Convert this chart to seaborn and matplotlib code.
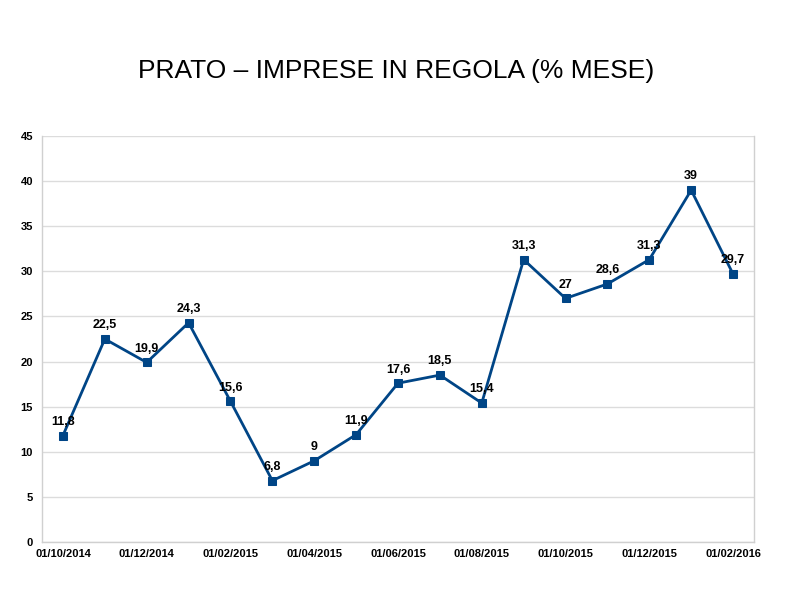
import matplotlib
matplotlib.use("Agg")
import matplotlib.pyplot as plt
import seaborn as sns
import pandas as pd

months = ["10/2014", "11/2014", "12/2014", "01/2015", "02/2015", "03/2015", "04/2015",
          "05/2015", "06/2015", "07/2015", "08/2015", "09/2015", "10/2015", "11/2015",
          "12/2015", "01/2016", "02/2016"]
values = [11.8, 22.5, 19.9, 24.3, 15.6, 6.8, 9, 11.9, 17.6, 18.5, 15.4, 31.3, 27, 28.6, 31.3, 39, 29.7]
value_labels = ["11,8", "22,5", "19,9", "24,3", "15,6", "6,8", "9", "11,9", "17,6", "18,5",
                "15,4", "31,3", "27", "28,6", "31,3", "39", "29,7"]
tick_labels = ["01/10/2014", "01/12/2014", "01/02/2015", "01/04/2015", "01/06/2015",
               "01/08/2015", "01/10/2015", "01/12/2015", "01/02/2016"]
y_ticks = [0, 5, 10, 15, 20, 25, 30, 35, 40, 45]

sns.set_theme(style="white")
plt.rcParams['font.family'] = ['Liberation Sans', 'DejaVu Sans']

df = pd.DataFrame({"pos": [i + 0.5 for i in range(len(months))], "value": values})

fig = plt.figure(figsize=(7.94, 5.95), dpi=100)
ax = fig.add_axes([42 / 794, 1 - 542 / 595, (754 - 42) / 794, (542 - 136) / 595])

color = "#004586"
sns.lineplot(data=df, x="pos", y="value", ax=ax, color=color, linewidth=2,
             marker="s", markersize=6, markeredgecolor=color, markerfacecolor=color)

for x, y, lab in zip(df["pos"], df["value"], value_labels):
    ax.annotate(lab, (x, y), xytext=(0, 5.5), textcoords="offset points", ha="center",
                va="bottom", fontsize=9, fontweight="bold", color="black")

ax.set_xlim(0, len(months))
ax.set_ylim(0, 45)
ax.set_yticks(y_ticks)
ax.set_yticklabels([str(v) for v in y_ticks])
# major ticks at month boundaries (no labels), labels centred on the months
ax.set_xticks(list(range(0, len(months), 2)))
ax.set_xticklabels([""] * len(tick_labels))
ax.set_xticks([i + 0.5 for i in range(0, len(months), 2)], minor=True)
ax.set_xticklabels(tick_labels, minor=True)
ax.tick_params(axis="both", which="major", labelsize=8, labelcolor="black", length=3,
               width=0.8, direction="out", color="#c8c8c8")
ax.tick_params(axis="x", which="minor", labelsize=8, labelcolor="black", length=0, pad=5)
for lbl in ax.get_xticklabels(minor=True) + ax.get_yticklabels():
    lbl.set_fontweight("bold")
ax.set_xlabel("")
ax.set_ylabel("")
ax.grid(axis="y", color="#dcdcdc", linewidth=1)
ax.grid(axis="x", visible=False)
ax.set_axisbelow(True)
for s in ax.spines.values():
    s.set_color("#d0d0d0")
    s.set_linewidth(1)
ax.spines["top"].set_visible(False)

fig.text(396 / 794, 1 - 71 / 595, "PRATO – IMPRESE IN REGOLA (% MESE)", ha="center", va="center",
         fontsize=19, color="black")

fig.savefig("out.png", dpi=100, facecolor="white")
